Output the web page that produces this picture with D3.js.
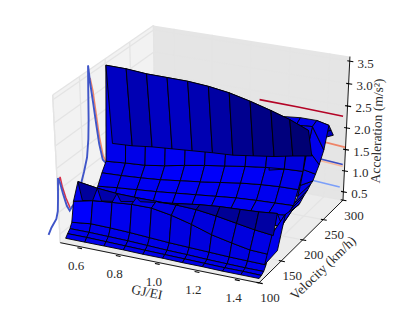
<!DOCTYPE html>
<html>
<head>
<meta charset="utf-8">
<title>Acceleration surface</title>
<script src="https://cdnjs.cloudflare.com/ajax/libs/d3/7.8.5/d3.min.js"></script>
<style>
  html, body { margin: 0; padding: 0; background: #fff; }
  svg { display: block; }
  text { font-family: "Liberation Serif", serif; fill: #2a2a2a; }
</style>
</head>
<body>
<svg id="chart" width="399" height="311"></svg>
<script>
// --- Data ---
const xTicks = [0.6, 0.8, 1.0, 1.2, 1.4];
const yTicks = [100, 150, 200, 250, 300];
const zTicks = [0.5, 1.0, 1.5, 2.0, 2.5, 3.0, 3.5];

const ratios = [0.52, 0.62, 0.72, 0.82, 0.92, 1.02, 1.12, 1.22, 1.32, 1.41, 1.5];
// the rows drift in velocity with GJ/EI: values at the first and the last column
const velocitiesLeft = [100, 104, 109, 113, 118, 128, 135, 145, 154, 166, 175, 184, 190, 198];
const velocitiesRight = [100, 105, 110, 115, 120, 130, 138, 150, 160, 175, 185, 195, 205, 215];
const accel = [
  [0.43, 0.43, 0.43, 0.43, 0.42, 0.42, 0.41, 0.41, 0.40, 0.40, 0.40],
  [0.50, 0.50, 0.49, 0.48, 0.47, 0.46, 0.45, 0.44, 0.43, 0.43, 0.42],
  [0.57, 0.57, 0.56, 0.55, 0.53, 0.51, 0.50, 0.48, 0.47, 0.46, 0.46],
  [0.68, 0.73, 0.72, 0.70, 0.67, 0.64, 0.62, 0.60, 0.58, 0.57, 0.56],
  [1.12, 1.22, 1.26, 1.30, 1.30, 1.22, 1.10, 0.95, 0.85, 0.77, 0.75],
  [1.48, 1.41, 1.37, 1.36, 1.36, 1.36, 1.34, 1.28, 1.20, 1.13, 1.08],
  [0.98, 1.05, 1.12, 1.20, 1.26, 1.32, 1.38, 1.42, 1.44, 1.46, 1.50],
  [0.62, 0.63, 0.66, 0.71, 0.77, 0.84, 0.91, 0.98, 1.02, 1.07, 1.10],
  [0.67, 0.69, 0.74, 0.80, 0.89, 0.97, 1.06, 1.12, 1.17, 1.21, 1.25],
  [1.03, 1.07, 1.10, 1.13, 1.17, 1.21, 1.25, 1.29, 1.31, 1.32, 1.33],
  [1.26, 1.27, 1.29, 1.32, 1.37, 1.42, 1.48, 1.54, 1.58, 1.60, 1.60],
  [1.45, 1.48, 1.50, 1.56, 1.64, 1.71, 1.77, 1.83, 1.88, 1.91, 1.92],
  [3.56, 3.54, 3.49, 3.47, 3.45, 3.40, 3.32, 3.20, 3.06, 2.92, 2.74],
  [1.74, 1.75, 1.79, 1.81, 1.83, 1.85, 1.86, 1.91, 1.96, 2.03, 2.09]
];

// the part of the surface that shows to the right of the tall ridge
const wingRatios = [1.33, 1.42, 1.5, 1.56];
const wingVelocities = [112, 128, 145, 160, 170, 178, 185, 190, 196, 204, 214, 224, 230, 236];
const wingAccel = [
  [NaN, NaN, 0.60, 0.97],
  [NaN, NaN, 1.15, 1.63],
  [NaN, NaN, 1.10, 1.58],
  [NaN, NaN, 1.25, 1.56],
  [NaN, NaN, 1.30, 1.65],
  [NaN, NaN, 1.36, 1.70],
  [1.38, 1.43, 1.45, 1.77],
  [1.50, 1.60, 1.65, 1.80],
  [1.80, 1.90, 1.95, 1.90],
  [2.20, 2.30, 2.35, 2.04],
  [2.65, 2.72, 2.75, 2.28],
  [2.76, 2.80, 2.80, 2.74],
  [NaN, NaN, 2.48, 2.58],
  [NaN, NaN, 2.30, 2.42]
];

// curves thrown onto the GJ/EI wall
const wallRatio = 0.43;
const blueVelocity = [100, 106, 116, 119.5, 121, 123, 126.5, 131, 137, 142, 146, 155, 161, 167, 173, 180, 184, 186, 187.5, 189, 191.5, 196, 201, 205, 211, 217.7];
const blueAccel = [0.43, 0.54, 0.65, 0.80, 1.06, 1.53, 1.38, 1.09, 0.76, 0.60, 0.64, 0.69, 0.87, 1.04, 1.23, 1.50, 1.89, 2.32, 2.96, 3.50, 3.12, 2.62, 2.04, 1.60, 1.18, 1.03];
const redVelocity = [123, 127, 130, 136, 143];
const redAccel = [1.38, 1.52, 1.28, 0.95, 0.66];
const salmonVelocity = [192, 196.5, 201.5, 206, 212, 218];
const salmonAccel = [3.20, 2.88, 2.28, 1.75, 1.27, 1.05];

// curves thrown onto the velocity wall
const backLines = [
  { color: "#b40426", ratio: [1.05, 1.25, 1.48], accel: [2.31, 2.29, 2.25] },
  { color: "#ee8468", ratio: [1.3, 1.5], accel: [1.62, 1.55] },
  { color: "#f7b89c", ratio: [1.25, 1.49], accel: [1.18, 1.10] },
  { color: "#3b4cc0", ratio: [1.25, 1.49], accel: [1.22, 1.14] },
  { color: "#7b9ff9", ratio: [1.2, 1.48], accel: [0.68, 0.60] }
];

// --- Scales: data to unit box, view plane to pixels ---
const xDomain = [0.49, 1.5];
const yDomain = [100, 300];
const zDomain = [0.3, 3.6];
const xScale = d3.scaleLinear().domain(xDomain).range([-0.5, 0.5]);
const yScale = d3.scaleLinear().domain(yDomain).range([-0.5, 0.5]);
const zScale = d3.scaleLinear().domain(zDomain).range([-0.5, 0.5]);
const screenX = d3.scaleLinear().domain([-1, 1]).range([204.5 - 218, 204.5 + 218]);
const screenY = d3.scaleLinear().domain([-1, 1]).range([150 + 168, 150 - 168]);

// same camera as a matplotlib 3d axes: elev 30, azim -65, dist 10
const elev = 30 * Math.PI / 180;
const azim = -65 * Math.PI / 180;
const dist = 10;
const view = [Math.cos(elev) * Math.cos(azim), Math.cos(elev) * Math.sin(azim), Math.sin(elev)];
const right = [-Math.sin(azim), Math.cos(azim), 0];
const up = [-Math.sin(elev) * Math.cos(azim), -Math.sin(elev) * Math.sin(azim), Math.cos(elev)];
const dot = (a, b) => a[0] * b[0] + a[1] * b[1] + a[2] * b[2];

function unit(x, y, z) {
  return [xScale(x), yScale(y), zScale(z)];
}
function project(x, y, z) {
  const p = unit(x, y, z);
  const f = dist / (dist - dot(view, p));
  return [screenX(dot(right, p) * f), screenY(dot(up, p) * f)];
}
function depth(x, y, z) {
  return dot(view, unit(x, y, z));
}

const svg = d3.select("#chart");
const polyPath = pts => "M" + pts.map(p => p.join(",")).join("L") + "Z";

// --- Walls and grid ---
const [x0, x1] = xDomain, [y0, y1] = yDomain, [z0, z1] = zDomain;
const walls = [
  { fill: "#f2f2f2", pts: [[x0, y0, z0], [x0, y1, z0], [x0, y1, z1], [x0, y0, z1]] },
  { fill: "#e5e5e5", pts: [[x0, y1, z0], [x1, y1, z0], [x1, y1, z1], [x0, y1, z1]] },
  { fill: "#ececec", pts: [[x0, y0, z0], [x1, y0, z0], [x1, y1, z0], [x0, y1, z0]] }
];
svg.append("g").selectAll("path").data(walls).enter().append("path")
  .attr("d", d => polyPath(d.pts.map(p => project(...p))))
  .attr("fill", d => d.fill)
  .attr("stroke", "none");

const gridSegs = [];
xTicks.forEach(x => {
  gridSegs.push([[x, y0, z0], [x, y1, z0]], [[x, y1, z0], [x, y1, z1]]);
});
yTicks.forEach(y => {
  gridSegs.push([[x0, y, z0], [x1, y, z0]], [[x0, y, z0], [x0, y, z1]]);
});
zTicks.forEach(z => {
  gridSegs.push([[x0, y0, z], [x0, y1, z]], [[x0, y1, z], [x1, y1, z]]);
});
gridSegs.push([[x0, y0, z0], [x0, y0, z1]], [[x0, y0, z1], [x0, y1, z1]], [[x0, y1, z0], [x0, y1, z1]]);
svg.append("g").selectAll("path").data(gridSegs).enter().append("path")
  .attr("d", d => "M" + project(...d[0]) + "L" + project(...d[1]))
  .attr("stroke", "#e4e4e4")
  .attr("stroke-width", 1.3)
  .attr("fill", "none");

// --- Contours on the walls ---
const curve = d3.line();
const drawCurve = (pts, color, width) => svg.append("path")
  .attr("d", curve(pts))
  .attr("fill", "none")
  .attr("stroke", color)
  .attr("stroke-width", width);

backLines.forEach(l => {
  drawCurve(l.ratio.map((r, i) => project(r, y1, l.accel[i])), l.color, 1.6);
});
drawCurve(salmonVelocity.map((v, i) => project(wallRatio, v, salmonAccel[i])), "#ee8468", 1.5);
drawCurve(redVelocity.map((v, i) => project(wallRatio, v, redAccel[i])), "#d6304a", 1.5);
drawCurve(blueVelocity.map((v, i) => project(wallRatio, v, blueAccel[i])), "#3f55c8", 1.9);

// --- Surface: quads sorted far to near, like plot_surface ---
const rowTone = { 5: 0.75, 12: 0.8 };   // back slopes of the two ridges
const rowDrawLate = { 5: 0.07, 12: 0.07 };
const cells = [];

function pushCell(corners, tone, late) {
  const avgDepth = d3.mean(corners, p => depth(...p)) + late;
  cells.push({ corners, avgDepth, tone: Math.max(0.45, Math.min(1, tone)) });
}

// main sheet: a row's velocity slides from its left value to its right value
const rowVelocity = d3.scaleLinear().domain([ratios[0], ratios[ratios.length - 1]]).range([0, 1]);
accel.slice(0, -1).forEach((row, r) => {
  ratios.slice(0, -1).forEach((x, c) => {
    const vAt = (i, j) => d3.interpolateNumber(velocitiesLeft[i], velocitiesRight[i])(rowVelocity(ratios[j]));
    const corners = [
      [ratios[c], vAt(r, c), accel[r][c]],
      [ratios[c + 1], vAt(r, c + 1), accel[r][c + 1]],
      [ratios[c + 1], vAt(r + 1, c + 1), accel[r + 1][c + 1]],
      [ratios[c], vAt(r + 1, c), accel[r + 1][c]]
    ];
    const dx = ratios[c + 1] - ratios[c];
    const frontSlope = (corners[1][2] - corners[0][2]) / dx;
    const backSlope = (corners[2][2] - corners[3][2]) / dx;
    let tone;
    if (rowTone[r]) {
      tone = rowTone[r] + 0.2 * Math.min(0, frontSlope);
    } else {
      const slope = (frontSlope + backSlope) / 2;
      tone = 0.92 + (slope < 0 ? 0.06 : 0.1) * slope;
    }
    pushCell(corners, tone, rowDrawLate[r] || 0);
  });
});

// wing: plain lit quads
wingAccel.slice(0, -1).forEach((row, r) => {
  wingRatios.slice(0, -1).forEach((x, c) => {
    const corners = [
      [wingRatios[c], wingVelocities[r], wingAccel[r][c]],
      [wingRatios[c + 1], wingVelocities[r], wingAccel[r][c + 1]],
      [wingRatios[c + 1], wingVelocities[r + 1], wingAccel[r + 1][c + 1]],
      [wingRatios[c], wingVelocities[r + 1], wingAccel[r + 1][c]]
    ];
    if (corners.some(p => isNaN(p[2]))) return;
    pushCell(corners, r >= 11 ? 0.75 : 0.93, 0);
  });
});
cells.sort((a, b) => d3.ascending(a.avgDepth, b.avgDepth));

svg.append("g").selectAll("path").data(cells).enter().append("path")
  .attr("d", d => polyPath(d.corners.map(p => project(...p))))
  .attr("fill", d => d3.rgb(0, 0, 255 * d.tone).formatHex())
  .attr("stroke", "#000")
  .attr("stroke-width", 0.9)
  .attr("stroke-linejoin", "round");

// --- Axes, ticks and labels ---
const axes = svg.append("g").attr("stroke", "#000").attr("fill", "none");
const axisLine = (a, b, w) => axes.append("path")
  .attr("d", "M" + project(...a) + "L" + project(...b))
  .attr("stroke-width", w);
axisLine([x0, y0, z0], [x1, y0, z0], 0.9);
axisLine([x1, y0, z0], [x1, y1, z0], 0.9);
axisLine([x1, y1, z0], [x1, y1, z1], 0.9);

xTicks.forEach(x => axisLine([x - 0.012, y0 - 3, z0], [x + 0.012, y0 - 3, z0], 1.1));
yTicks.forEach(y => axisLine([x1 - 0.012, y, z0], [x1 + 0.018, y, z0], 1.1));
zTicks.forEach(z => axisLine([x1 - 0.012, y1, z], [x1 + 0.018, y1, z], 1.1));

function tickLabels(ticks, pos, fmt, dx, dy) {
  svg.append("g").selectAll("text").data(ticks).enter().append("text")
    .attr("x", d => pos(d)[0] + dx)
    .attr("y", d => pos(d)[1] + dy)
    .attr("text-anchor", "middle")
    .attr("dominant-baseline", "central")
    .attr("font-size", 13)
    .text(fmt);
}
const oneDecimal = d3.format(".1f");
tickLabels(xTicks, x => project(x, y0, z0), oneDecimal, -5, 19);
tickLabels(yTicks, y => project(x1, y, z0), d => d, 11, 15);
tickLabels(zTicks, z => project(x1, y1, z), oneDecimal, 16, 2);

function axisTitle(label, x, y, rot) {
  svg.append("text")
    .attr("transform", `translate(${x},${y}) rotate(${rot})`)
    .attr("text-anchor", "middle")
    .attr("dominant-baseline", "central")
    .attr("font-size", 13.5)
    .text(label);
}
axisTitle("GJ/EI", 147, 292, 12);
axisTitle("Velocity (km/h)", 323, 268, -44);
axisTitle("Acceleration (m/s²)", 377, 131, -88);
</script>
</body>
</html>
